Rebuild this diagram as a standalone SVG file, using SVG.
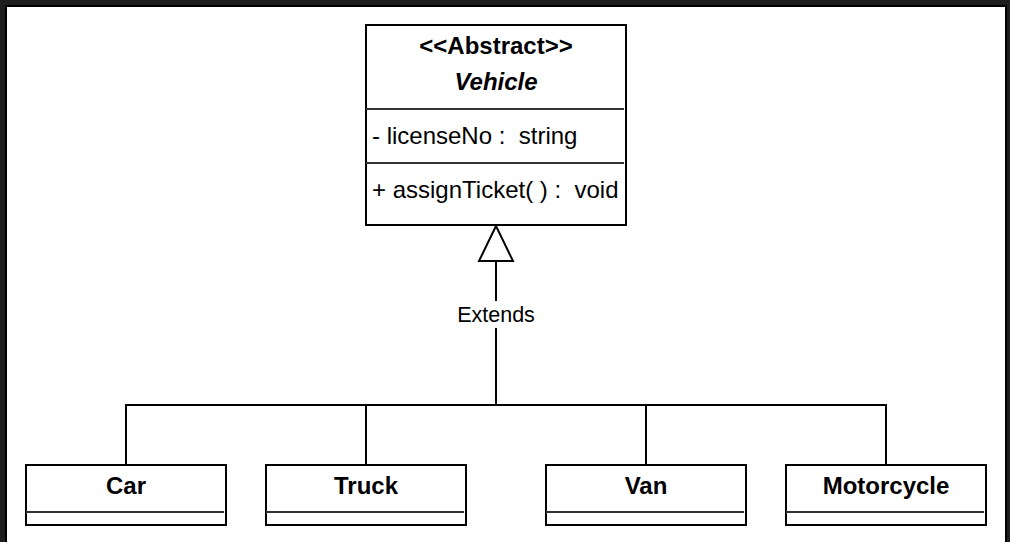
<svg xmlns="http://www.w3.org/2000/svg" width="1010" height="542" viewBox="0 0 1010 542">
<style>
.box{fill:#ffffff;stroke:#000000;stroke-width:2}
.div{stroke:#333333;stroke-width:2;fill:none}
.edge{stroke:#000000;stroke-width:2;fill:none}
.t{font-family:"Liberation Sans",Arial,Helvetica,sans-serif;fill:#000000;white-space:pre}
.b{font-weight:bold}
.c{text-anchor:middle}
</style>
<rect x="0" y="0" width="1010" height="542" fill="#1e1e1e"/>
<rect x="5" y="5" width="1002" height="537" fill="#000000"/>
<rect x="7" y="7" width="998" height="535" fill="#ffffff"/>

<g id="connectors">
  <path class="edge" d="M496 261 V301 M496 328 V405"/>
  <path class="edge" d="M126 465 V405 H886 V465 M366 405 V465 M646 405 V465"/>
  <polygon points="496,226 479,261 513,261" fill="#ffffff" stroke="#000000" stroke-width="2"/>
  <text class="t c" x="496" y="322" font-size="21.5">Extends</text>
</g>

<g id="vehicle">
  <rect class="box" x="366" y="25" width="260" height="200"/>
  <line class="div" x1="366" y1="109" x2="624" y2="109"/>
  <line class="div" x1="366" y1="163" x2="624" y2="163"/>
  <text class="t b c" x="496" y="54" font-size="24">&lt;&lt;Abstract&gt;&gt;</text>
  <text class="t b c" x="496" y="90" font-size="24" font-style="italic">Vehicle</text>
  <text class="t" x="372" y="144" font-size="24" xml:space="preserve">- licenseNo :  string</text>
  <text class="t" x="372" y="198" font-size="24" xml:space="preserve">+ assignTicket( ) :  void</text>
</g>

<g id="car">
  <rect class="box" x="26" y="465" width="200" height="60"/>
  <line class="div" x1="26" y1="512" x2="224" y2="512"/>
  <text class="t b c" x="126" y="494" font-size="24">Car</text>
</g>
<g id="truck">
  <rect class="box" x="266" y="465" width="200" height="60"/>
  <line class="div" x1="266" y1="512" x2="464" y2="512"/>
  <text class="t b c" x="366" y="494" font-size="24">Truck</text>
</g>
<g id="van">
  <rect class="box" x="546" y="465" width="200" height="60"/>
  <line class="div" x1="546" y1="512" x2="744" y2="512"/>
  <text class="t b c" x="646" y="494" font-size="24">Van</text>
</g>
<g id="motorcycle">
  <rect class="box" x="786" y="465" width="200" height="60"/>
  <line class="div" x1="786" y1="512" x2="984" y2="512"/>
  <text class="t b c" x="886" y="494" font-size="24">Motorcycle</text>
</g>
</svg>
